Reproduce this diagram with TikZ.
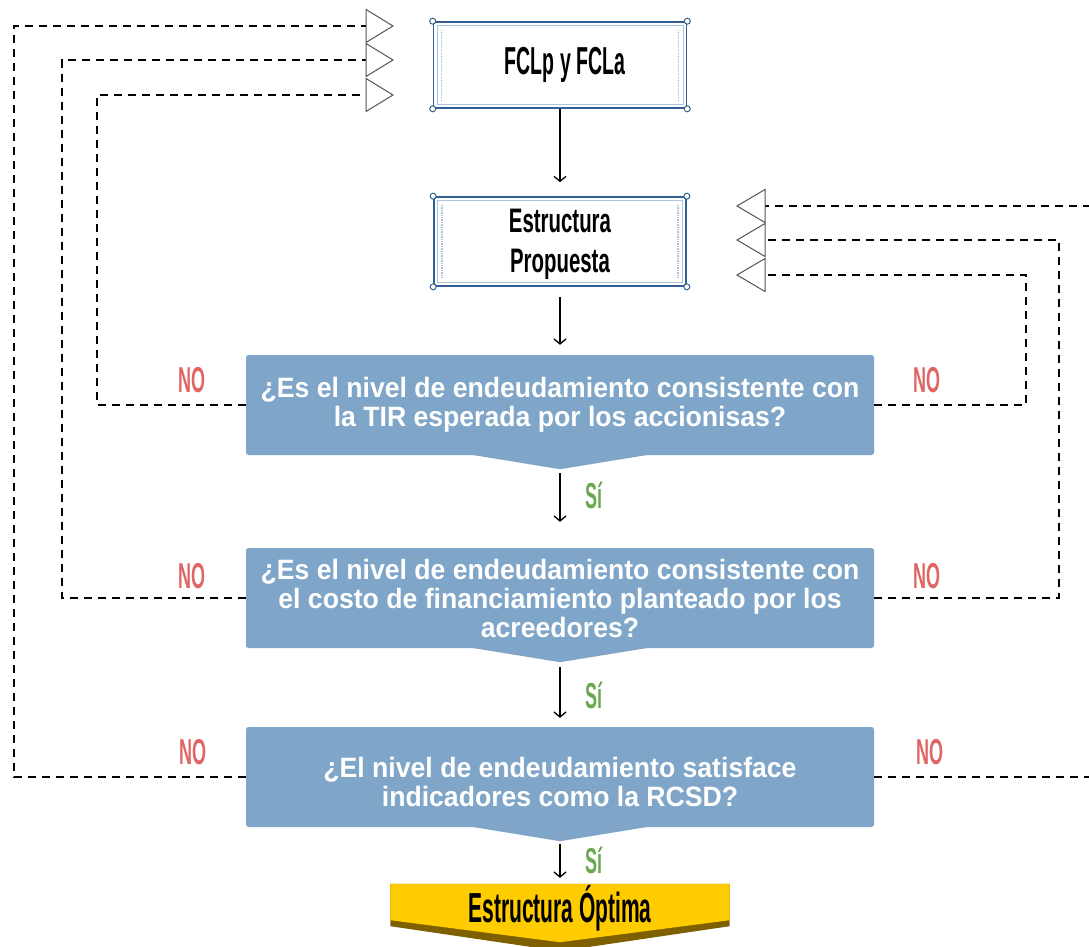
\documentclass[tikz,border=0pt]{standalone}
\usepackage{fontspec}
\setmainfont{Liberation Sans}
\newfontfamily\qfont[FakeStretch=0.95]{Liberation Sans}
\newfontfamily\condfont[FakeStretch=0.5]{Liberation Sans}
\newfontfamily\semicondfont[FakeStretch=0.6]{Liberation Sans}
\usetikzlibrary{arrows.meta}

\definecolor{frameblue}{HTML}{2F5F93}
\definecolor{lineblue}{HTML}{A9C3DE}
\definecolor{decfill}{HTML}{7FA6C8}
\definecolor{goldfill}{HTML}{FFCC00}
\definecolor{goldedge}{HTML}{7F6000}
\definecolor{nored}{HTML}{E06666}
\definecolor{sigreen}{HTML}{6AA84F}
\definecolor{trigray}{HTML}{555555}

\tikzset{
  fancybox/.style={draw=frameblue, line width=1.6pt, fill=white, inner sep=0pt,
    align=center,
    path picture={
      \draw[lineblue, line width=0.6pt]
        ([xshift=3.5pt,yshift=-3.5pt]path picture bounding box.north west) rectangle
        ([xshift=-3.5pt,yshift=3.5pt]path picture bounding box.south east);
      \draw[lineblue, densely dotted, line width=1.4pt]
        ([xshift=8pt,yshift=-8pt]path picture bounding box.north west) --
        ([xshift=8pt,yshift=8pt]path picture bounding box.south west);
      \draw[lineblue, densely dotted, line width=1.4pt]
        ([xshift=-8pt,yshift=-8pt]path picture bounding box.north east) --
        ([xshift=-8pt,yshift=8pt]path picture bounding box.south east);
    }},
  decision/.style={fill=decfill, rounded corners=2.5pt, inner sep=0pt,
    minimum width=628pt, minimum height=100pt, align=center, text=white,
    font=\qfont\bfseries\fontsize{28}{29}\selectfont},
  arr/.style={-{Straight Barb[length=5pt,width=12pt]}, line width=1.3pt},
  fb/.style={dash pattern=on 8pt off 6pt, line width=1.4pt},
  tri/.style={draw=trigray, line width=1pt, fill=white},
  nolabel/.style={text=nored, font=\condfont\bfseries\fontsize{36}{38}\selectfont, inner sep=0pt},
  silabel/.style={text=sigreen, font=\condfont\bfseries\fontsize{36}{38}\selectfont, inner sep=0pt},
}

\begin{document}
\begin{tikzpicture}[x=1pt,y=-1pt]
\useasboundingbox (0,0) rectangle (1089,947);
\fill[white] (0,0) rectangle (1089,947);

% input and proposal boxes
\node[fancybox, minimum width=253pt, minimum height=86pt,
  font=\condfont\bfseries\fontsize{39}{42}\selectfont] (b1) at (560,65) {\hspace{10pt}FCLp y FCLa};
\node[fancybox, minimum width=252pt, minimum height=89pt,
  font=\semicondfont\bfseries\fontsize{34}{40}\selectfont] (b2) at (560,241.5)
  {\rule{0pt}{30pt}Estructura\\Propuesta};
\foreach \n in {b1,b2}
  \foreach \c in {north west,north east,south west,south east}
    \draw[frameblue, line width=1pt, fill=white] (\n.\c) circle (3pt);

% decision boxes
\node[decision] (d1) at (560,405)
  {¿Es el nivel de endeudamiento consistente con\\la TIR esperada por los accionisas?};
\node[decision] (d2) at (560,598)
  {¿Es el nivel de endeudamiento consistente con\\el costo de financiamiento planteado por los\\acreedores?};
\node[decision] (d3) at (560,777)
  {\rule{0pt}{30pt}¿El nivel de endeudamiento satisface\\indicadores como la RCSD?};
\foreach \n in {d1,d2,d3}{
  \fill[decfill] ([xshift=-92pt,yshift=1pt]\n.south) -- ([yshift=-14pt]\n.south)
    -- ([xshift=92pt,yshift=1pt]\n.south) -- cycle;
  \coordinate (\n tip) at ([yshift=-14pt]\n.south);
}

% final result
\node[inner sep=0pt, minimum width=339pt, minimum height=48pt] (fin) at (560,908) {};
\fill[goldedge] (fin.north west) -- (fin.north east) -- ([yshift=6pt]fin.south east)
  -- ([yshift=-19pt]fin.south) -- ([yshift=6pt]fin.south west) -- cycle;
\fill[goldfill] (fin.north west) -- (fin.north east) -- ([yshift=12pt]fin.south east)
  -- ([yshift=-10pt]fin.south) -- ([yshift=12pt]fin.south west) -- cycle;
\node[font=\condfont\bfseries\fontsize{42}{44}\selectfont, inner sep=0pt] (fintext)
  at (fin.center) {Estructura Óptima};

% main flow
\draw[arr, shorten >=14pt] (b1.south) -- (b2.north);
\draw[arr, shorten <=10pt, shorten >=10pt] (b2.south) -- (d1.north);
\draw[arr, shorten <=4pt, shorten >=26pt] (d1tip) -- (d2.north);
\draw[arr, shorten <=5pt, shorten >=9pt] (d2tip) -- (d3.north);
\draw[arr, shorten <=3pt, shorten >=6pt] (d3tip) -- (fin.north);

\node[silabel] (si1) at (594,495) {Sí};
\node[silabel] (si2) at (594,695) {Sí};
\node[silabel] (si3) at (594,860) {Sí};

% feedback arrowheads
\coordinate (tl1) at (366,26);
\coordinate (tl2) at (366,60);
\coordinate (tl3) at (366,95);
\coordinate (tr1) at (765,206);
\coordinate (tr2) at (765,240);
\coordinate (tr3) at (765,275);

% feedback loops
\draw[fb] (d1.west) -| (97,95) -- (tl3);
\draw[fb] (d2.west) -| (62,60) -- (tl2);
\draw[fb] (d3.west) -| (14,26) -- (tl1);
\draw[fb] (d1.east) -| (1026,275) -- (tr3);
\draw[fb] (d2.east) -| (1059,240) -- (tr2);
\draw[fb] (d3.east) -| (1096,206) -- (tr1);

\foreach \t in {tl1,tl2,tl3}
  \draw[tri] (\t) ++(0,-16.5) -- ++(27,16.5) -- ++(-27,16.5) -- cycle;
\foreach \t in {tr1,tr2,tr3}
  \draw[tri] (\t) ++(0,-16.5) -- ++(-28,16.5) -- ++(28,16.5) -- cycle;

\node[nolabel] (no1l) at (192,380) {NO};
\node[nolabel] (no2l) at (192,576) {NO};
\node[nolabel] (no3l) at (193,752) {NO};
\node[nolabel] (no1r) at (927,380) {NO};
\node[nolabel] (no2r) at (927,576) {NO};
\node[nolabel] (no3r) at (930,752) {NO};
\end{tikzpicture}
\end{document}
